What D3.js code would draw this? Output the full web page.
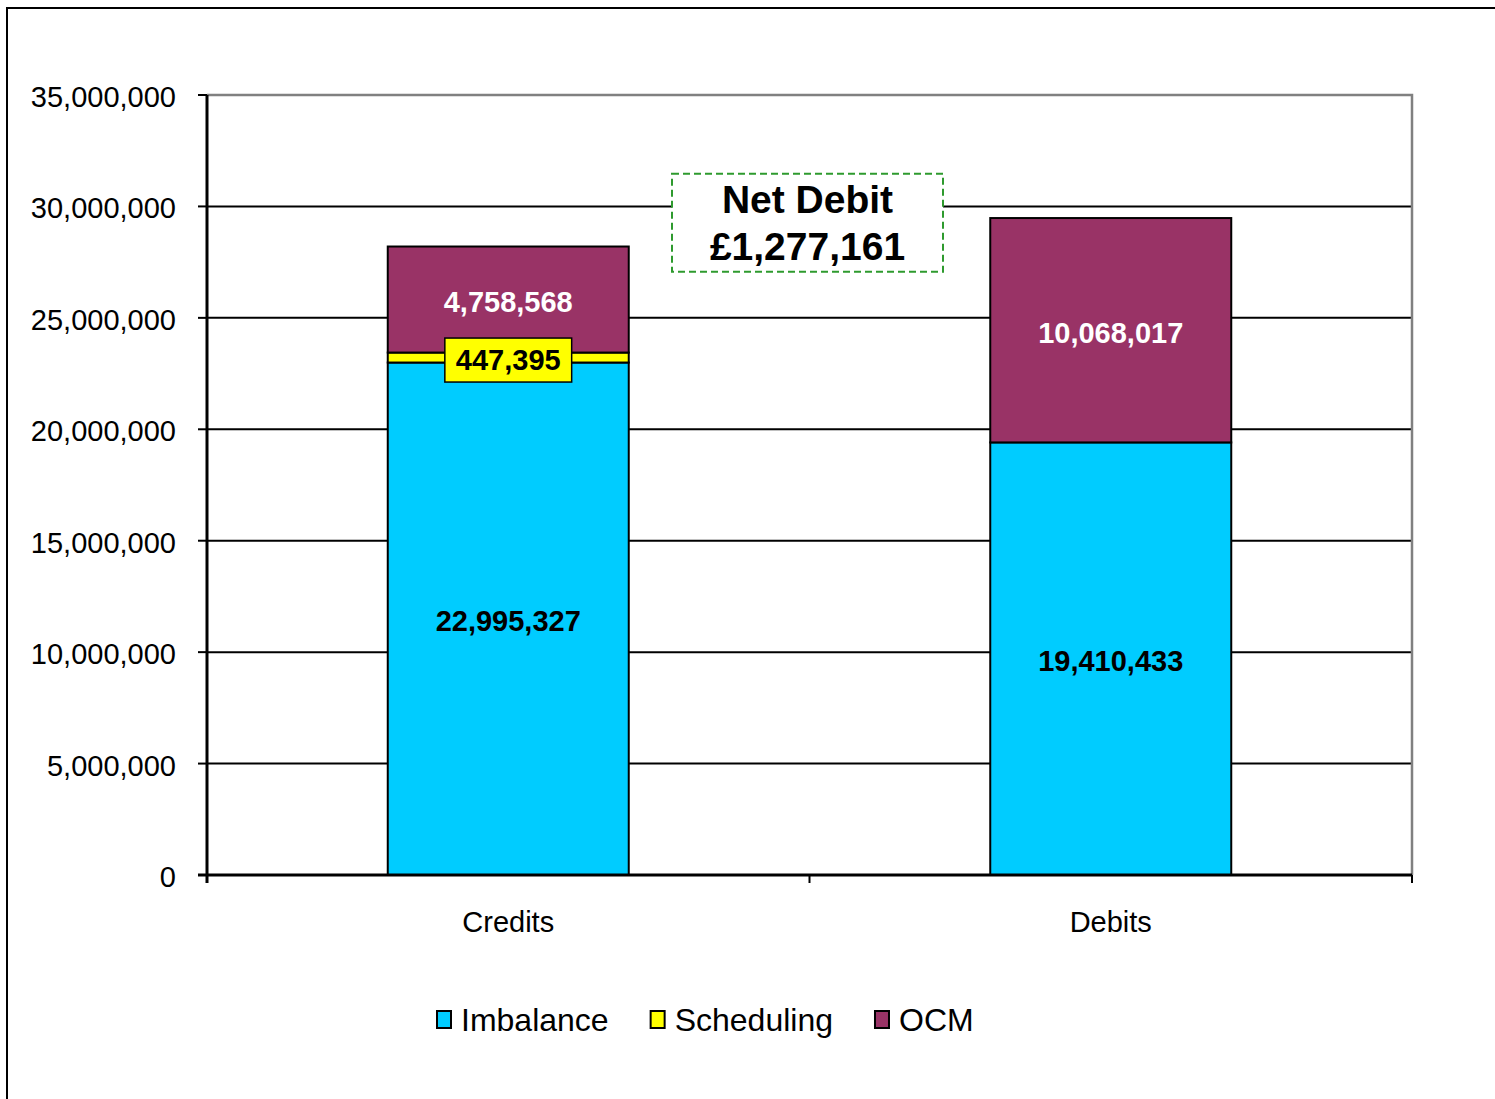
<!DOCTYPE html>
<meta charset="utf-8">
<style>
body { margin: 0; background: white; }
svg text { font-family: "Liberation Sans", Arial, Helvetica, sans-serif; }
</style>
<script src="https://d3js.org/d3.v7.min.js"></script>
<div id="chart"></div>
<script>

// data
var categories = ["Credits", "Debits"];
var seriesNames = ["Imbalance", "Scheduling", "OCM"];
var imbalance = [22995327, 19410433];
var scheduling = [447395, 0];
var ocm = [4758568, 10068017];
var yTickValues = [0, 5000000, 10000000, 15000000, 20000000, 25000000, 30000000, 35000000];
var netDebitText = ["Net Debit", "£1,277,161"];

var colors = ["#00ccff", "#ffff00", "#993366"];
var labelColors = ["#000", "#000", "#fff"];

var W = 1495, H = 1099;
var plot = {left: 207, right: 1412, top: 95, bottom: 875};

var svg = d3.select("#chart").append("svg")
    .attr("width", W)
    .attr("height", H);

// outer chart border (runs off the right / bottom edge)
svg.append("rect")
    .attr("x", 7).attr("y", 8)
    .attr("width", W + 20).attr("height", H + 20)
    .attr("fill", "white")
    .attr("stroke", "#000")
    .attr("stroke-width", 2);

var x = d3.scaleBand()
    .domain(categories)
    .range([plot.left, plot.right])
    .paddingInner(0.6)
    .paddingOuter(0.3);

var y = d3.scaleLinear()
    .domain([0, 35000000])
    .range([plot.bottom, plot.top]);

var fmt = d3.format(",");

// gridlines
svg.append("g").selectAll("line")
  .data(yTickValues.slice(1, -1))
  .enter().append("line")
    .attr("x1", plot.left).attr("x2", plot.right)
    .attr("y1", function(d) { return y(d); })
    .attr("y2", function(d) { return y(d); })
    .attr("stroke", "#000")
    .attr("stroke-width", 2);

// plot area border top / right (grey)
svg.append("path")
    .attr("d", "M" + plot.left + "," + y(35000000) + "H" + plot.right + "V" + plot.bottom)
    .attr("fill", "none")
    .attr("stroke", "#808080")
    .attr("stroke-width", 2.5);

// stacked bars
var rows = categories.map(function(c, i) {
  return {cat: c, Imbalance: imbalance[i], Scheduling: scheduling[i], OCM: ocm[i]};
});
var stacked = d3.stack().keys(seriesNames)(rows);

var layers = svg.append("g").selectAll("g")
  .data(stacked)
  .enter().append("g")
    .attr("fill", function(d, i) { return colors[i]; });

layers.selectAll("rect")
  .data(function(d) { return d.filter(function(s) { return s[1] - s[0] > 0; }); })
  .enter().append("rect")
    .attr("x", function(d) { return x(d.data.cat); })
    .attr("y", function(d) { return y(d[1]); })
    .attr("width", x.bandwidth())
    .attr("height", function(d) { return y(d[0]) - y(d[1]); })
    .attr("stroke", "#000")
    .attr("stroke-width", 2);

// segment value labels
stacked.forEach(function(layer, li) {
  layer.forEach(function(s) {
    var v = s[1] - s[0];
    if (v <= 0) return;
    var cx = x(s.data.cat) + x.bandwidth() / 2;
    var cy = y((s[0] + s[1]) / 2);
    var g = svg.append("g");
    var t = g.append("text")
        .attr("x", cx)
        .attr("y", cy + 12.5)
        .attr("text-anchor", "middle")
        .attr("font-size", "29px")
        .attr("font-weight", "bold")
        .attr("fill", labelColors[li])
        .text(fmt(v));
    if (seriesNames[li] == "Scheduling") {
      var tw = t.node().getComputedTextLength();
      g.insert("rect", "text")
        .attr("x", cx - tw / 2 - 11)
        .attr("y", cy - 19.5)
        .attr("width", tw + 22)
        .attr("height", 44)
        .attr("fill", colors[li])
        .attr("stroke", "#000")
        .attr("stroke-width", 1.5);
    }
  });
});

// y axis
var yAxis = svg.append("g");
yAxis.append("line")
    .attr("x1", plot.left).attr("x2", plot.left)
    .attr("y1", plot.top).attr("y2", plot.bottom + 8)
    .attr("stroke", "#000").attr("stroke-width", 3);
yAxis.selectAll(".tick")
  .data(yTickValues)
  .enter().append("line")
    .attr("x1", plot.left - 9).attr("x2", plot.left)
    .attr("y1", function(d) { return y(d); })
    .attr("y2", function(d) { return y(d); })
    .attr("stroke", "#000").attr("stroke-width", 2);
yAxis.selectAll("text")
  .data(yTickValues)
  .enter().append("text")
    .attr("x", 176)
    .attr("y", function(d) { return y(d) + 12; })
    .attr("text-anchor", "end")
    .attr("font-size", "29px")
    .attr("fill", "#000")
    .text(function(d) { return fmt(d); });

// x axis
var xAxis = svg.append("g");
xAxis.append("line")
    .attr("x1", plot.left - 9).attr("x2", plot.right)
    .attr("y1", plot.bottom).attr("y2", plot.bottom)
    .attr("stroke", "#000").attr("stroke-width", 3);
var bounds = d3.range(categories.length + 1).map(function(i) { return plot.left + i * x.step(); });
xAxis.selectAll(".xt")
  .data(bounds)
  .enter().append("line")
    .attr("x1", function(d) { return d; })
    .attr("x2", function(d) { return d; })
    .attr("y1", plot.bottom).attr("y2", plot.bottom + 8)
    .attr("stroke", "#000").attr("stroke-width", 2);
xAxis.selectAll("text")
  .data(categories)
  .enter().append("text")
    .attr("x", function(d) { return x(d) + x.bandwidth() / 2; })
    .attr("y", 932)
    .attr("text-anchor", "middle")
    .attr("font-size", "29px")
    .attr("fill", "#000")
    .text(function(d) { return d; });

// Net Debit annotation
var boxW = 271, boxH = 98;
var boxCx = bounds[1] - 2;
var boxTop = y(31470000);
var note = svg.append("g");
note.append("rect")
    .attr("x", boxCx - boxW / 2)
    .attr("y", boxTop)
    .attr("width", boxW)
    .attr("height", boxH)
    .attr("fill", "white")
    .attr("stroke", "#2e9a2e")
    .attr("stroke-width", 2)
    .attr("stroke-dasharray", "7,4");
note.selectAll("text")
  .data(netDebitText)
  .enter().append("text")
    .attr("x", boxCx)
    .attr("y", function(d, i) { return boxTop + 39 + i * 47; })
    .attr("text-anchor", "middle")
    .attr("font-size", "39px")
    .attr("font-weight", "bold")
    .attr("fill", "#000")
    .text(function(d) { return d; });

// legend
var legend = svg.append("g");
var lx = 436;
seriesNames.forEach(function(name, i) {
  var item = legend.append("g").attr("transform", "translate(" + lx + ",0)");
  item.append("rect")
      .attr("x", 1).attr("y", 1011)
      .attr("width", 14).attr("height", 17)
      .attr("fill", colors[i])
      .attr("stroke", "#000")
      .attr("stroke-width", 2);
  var t = item.append("text")
      .attr("x", 25)
      .attr("y", 1031)
      .attr("font-size", "32px")
      .attr("fill", "#000")
      .text(name);
  lx += 25 + t.node().getComputedTextLength() + 41;
});

</script>
